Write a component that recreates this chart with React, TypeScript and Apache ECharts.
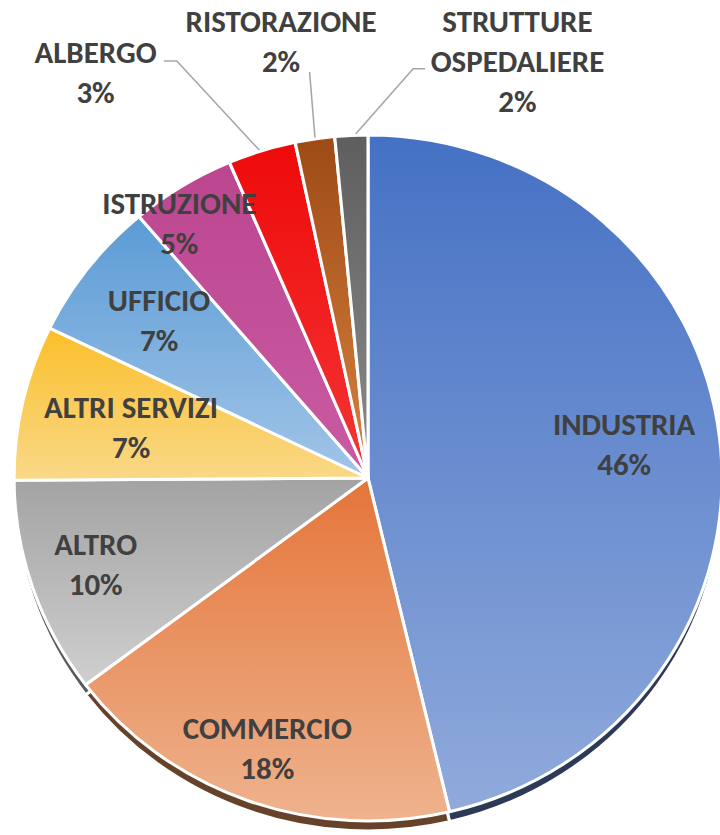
import React, { useEffect, useRef } from 'react';
import * as echarts from 'echarts';

// ---- data ----
const categories = [
  'INDUSTRIA',
  'COMMERCIO',
  'ALTRO',
  'ALTRI SERVIZI',
  'UFFICIO',
  'ISTRUZIONE',
  'ALBERGO',
  'RISTORAZIONE',
  'STRUTTURE\nOSPEDALIERE',
];
const shares = [46.3, 18.4, 10.2, 7.3, 6.6, 4.8, 3.1, 1.8, 1.5];

// ---- styles ----
const topColors = ['#4571C4', '#E4753A', '#A3A3A3', '#FBBF2A', '#5B9BD5', '#BC4690', '#EE0A0A', '#9E4A16', '#5E5E5E'];
const bottomColors = ['#90AADB', '#EFB38E', '#CFCFCF', '#F9D888', '#A2C5E8', '#C95BA3', '#F53535', '#D9823F', '#8C8C8C'];
const shadowColors = ['#2C3A58', '#66422A', '#5A5A5A', '#8A6A1A', '#3A5A7A', '#6A2A50', '#7A1010', '#5A2A0A', '#404040'];

// label placement relative to each slice: [angle offset from slice bisector (deg), radius fraction]
const labelPlacement: [number, number][] = [
  [-0.9, 0.73], [0, 0.84], [0.5, 0.81], [-0.5, 0.685], [0, 0.747], [-4, 0.914],
  [-15.6, 1.411], [-2.3, 1.295], [21.9, 1.284],
];
// leader lines of outside labels: [elbow angle offset from bisector, elbow radius fraction, horizontal tail px]
const leaderLines: Record<number, [number, number, number]> = {
  6: [-6.5, 1.33, -13],
  7: [0.7, 1.195, 0],
  8: [8.8, 1.2, 12],
};

const SX = 1.032;
const CX = 356.6;
const CY = 478;
const R = 343;

function polar(deg: number, frac: number): [number, number] {
  const a = (deg * Math.PI) / 180;
  return [CX + frac * R * Math.sin(a), CY - frac * R * Math.cos(a)];
}

export default function App() {
  const ref = useRef<HTMLDivElement>(null);
  useEffect(() => {
    if (!ref.current) return;
    const chart = echarts.init(ref.current, null, { renderer: 'svg' });
    const total = shares.reduce((a, b) => a + b, 0);
    const bisectors: number[] = [];
    let acc = 0;
    shares.forEach((v) => {
      bisectors.push(((acc + v / 2) / total) * 360);
      acc += v;
    });

    const mainData = categories.map((name, i) => ({
      name,
      value: shares[i],
      itemStyle: {
        color: new echarts.graphic.LinearGradient(0, 0, 0, 1, [
          { offset: 0, color: topColors[i] },
          { offset: 1, color: bottomColors[i] },
        ]),
      },
      label: { position: leaderLines[i] ? 'outside' : 'inside' },
      labelLine: { show: !!leaderLines[i] },
    }));
    const shadowData = categories.map((name, i) => ({
      name,
      value: shares[i],
      itemStyle: { color: shadowColors[i] },
    }));

    chart.setOption({
      animation: false,
      backgroundColor: '#ffffff',
      series: [
        {
          type: 'pie',
          silent: true,
          z: 1,
          center: [CX, CY + 10],
          radius: R,
          startAngle: 90,
          clockwise: true,
          avoidLabelOverlap: false,
          itemStyle: { borderColor: '#ffffff', borderWidth: 3 },
          label: { show: false },
          labelLine: { show: false },
          data: shadowData,
        },
        {
          type: 'pie',
          z: 2,
          center: [CX, CY],
          radius: R,
          startAngle: 90,
          clockwise: true,
          avoidLabelOverlap: false,
          itemStyle: { borderColor: '#ffffff', borderWidth: 3 },
          label: {
            show: true,
            formatter: (p: any) => `${p.name}\n${Math.round(p.value)}%`,
            fontFamily: 'Carlito, Lato, sans-serif',
            fontWeight: 'bold',
            fontSize: 30,
            lineHeight: 40,
            color: '#404040',
          },
          labelLine: {
            lineStyle: { color: '#A6A6A6', width: 1.5 },
          },
          labelLayout: (params: any) => {
            const i = params.dataIndex;
            const [dA, fr] = labelPlacement[i];
            const [x, y] = polar(bisectors[i] + dA, fr);
            const out: any = { x, y, align: 'center', verticalAlign: 'middle' };
            const ll = leaderLines[i];
            if (ll) {
              const start = polar(bisectors[i], 0.99);
              const elbow = polar(bisectors[i] + ll[0], ll[1]);
              const end: [number, number] = [elbow[0] + ll[2] / SX, elbow[1]];
              out.labelLinePoints = [start, elbow, end];
            }
            return out;
          },
          data: mainData,
        },
      ],
    });
    return () => chart.dispose();
  }, []);

  return (
    <div
      style={{
        position: 'absolute',
        left: 0,
        top: 0,
        width: 720,
        height: 835,
        overflow: 'hidden',
        background: '#ffffff',
      }}
    >
      <div
        ref={ref}
        style={{ width: 698, height: 835, transform: `scaleX(${SX})`, transformOrigin: '0 0' }}
      />
    </div>
  );
}
